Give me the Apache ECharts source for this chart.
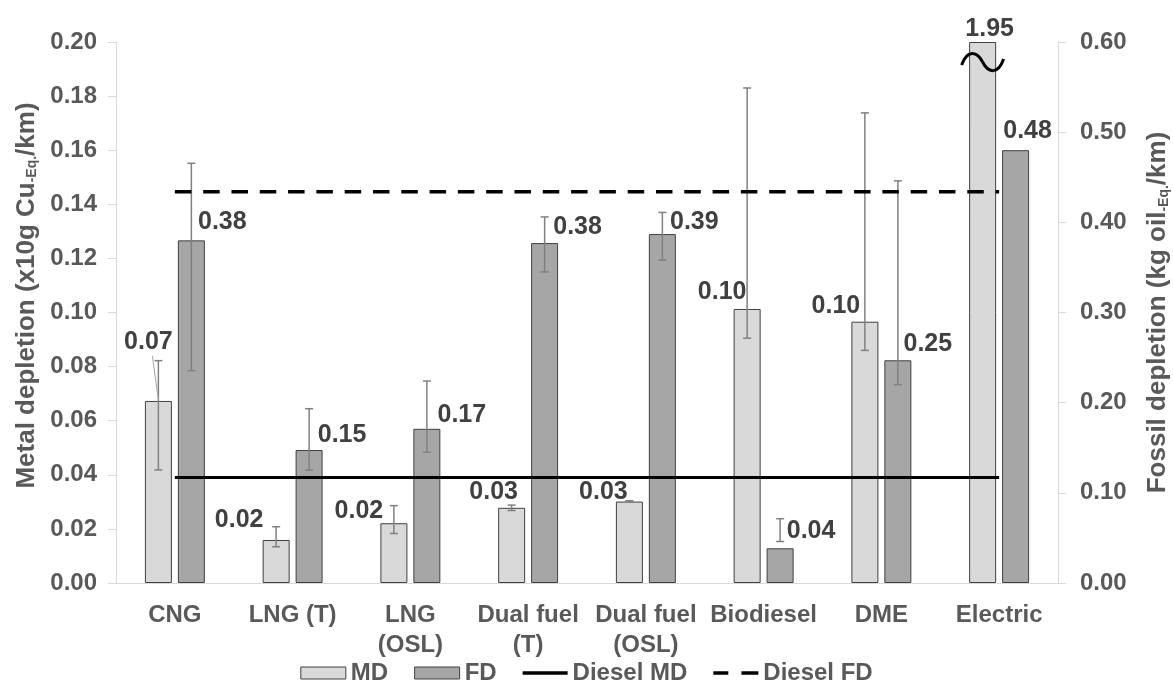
<!DOCTYPE html>
<html>
<head>
<meta charset="utf-8">
<script src="https://cdn.jsdelivr.net/npm/echarts@6/dist/echarts.min.js"></script>
<style>html,body{margin:0;padding:0;background:#fff;}#c{width:1173px;height:690px;}</style>
</head>
<body>
<div id="c"></div>
<script>
// ---- data ----
const categories = ['CNG', 'LNG (T)', 'LNG\n(OSL)', 'Dual fuel\n(T)', 'Dual fuel\n(OSL)', 'Biodiesel', 'DME', 'Electric'];
const mdValues   = [0.0673, 0.0159, 0.0221, 0.0278, 0.0301, 0.1013, 0.0966, 1.95];
const mdErrLow   = [0.0418, 0.0134, 0.0183, 0.0268, 0.0299, 0.0905, 0.0860, null];
const mdErrHigh  = [0.0822, 0.0208, 0.0286, 0.0288, 0.0304, 0.1830, 0.1738, null];
const fdValues   = [0.380, 0.1475, 0.171, 0.377, 0.387, 0.0385, 0.247, 0.480];
const fdErrLow   = [0.2355, 0.1253, 0.145, 0.345, 0.358, 0.046, 0.220, null];
const fdErrHigh  = [0.4655, 0.1933, 0.224, 0.406, 0.411, 0.0713, 0.446, null];
const dieselMD = 0.039;
const dieselFD = 0.434;
const leftAxis  = { min: 0, max: 0.20, interval: 0.02 };
const rightAxis = { min: 0, max: 0.60, interval: 0.10 };

// ---- label placement (style only) ----
const mdLabelOffset = [[-10, -41], [-37, -2], [-35, 5], [-18, 2], [-26, 8], [-25, 1], [-29, 2], [7, 5]];
const fdLabelOffset = [[31, -1], [33, 3], [35, 4], [33, 2], [32, 6], [31, 0], [30, 1], [12, -2]];

const FONT = '"Liberation Sans", Arial, sans-serif';
const BAR_W = 27, HALF_OFF = 16.5;
const chart = echarts.init(document.getElementById('c'), null, { renderer: 'canvas' });

const labelStyle = { show: true, position: 'top', distance: 5, fontFamily: FONT, fontWeight: 'bold', fontSize: 25, color: '#404040' };

const mdData = mdValues.map((v, i) => ({
  value: Math.min(v, leftAxis.max),
  label: Object.assign({}, labelStyle, { offset: mdLabelOffset[i], formatter: () => v.toFixed(2) })
}));
const fdData = fdValues.map((v, i) => ({
  value: v,
  label: Object.assign({}, labelStyle, { offset: fdLabelOffset[i], formatter: () => v.toFixed(2) })
}));

function errRender(offset) {
  return function (params, api) {
    const i = api.value(0);
    const lo = api.coord([i, api.value(1)]);
    const hi = api.coord([i, api.value(2)]);
    const x = lo[0] + offset;
    const st = { stroke: '#808080', lineWidth: 1.5 };
    return {
      type: 'group',
      children: [
        { type: 'line', shape: { x1: x, y1: lo[1], x2: x, y2: hi[1] }, style: st },
        { type: 'line', shape: { x1: x - 4, y1: lo[1], x2: x + 4, y2: lo[1] }, style: st },
        { type: 'line', shape: { x1: x - 4, y1: hi[1], x2: x + 4, y2: hi[1] }, style: st }
      ]
    };
  };
}
const mdErrData = categories.map((c, i) => [i, mdErrLow[i], mdErrHigh[i]]).filter(d => d[1] !== null);
const fdErrData = categories.map((c, i) => [i, fdErrLow[i], fdErrHigh[i]]).filter(d => d[1] !== null);

const axisLabelStyle = { fontFamily: FONT, fontWeight: 'bold', fontSize: 24, color: '#595959' };
const lastIdx = categories.length - 1;
const subRich = { s: { fontFamily: FONT, fontWeight: 'bold', fontSize: 14, color: '#595959', verticalAlign: 'bottom', padding: [11, 0, 0, 0] } };

const option = {
  animation: false,
  backgroundColor: '#fff',
  grid: { left: 116, right: 115, top: 42, bottom: 107, containLabel: false, outerBoundsMode: 'none' },
  legend: {
    left: 'center', top: 656,
    itemWidth: 45, itemHeight: 12, itemGap: 26,
    symbolKeepAspect: true,
    textStyle: { fontFamily: FONT, fontWeight: 'bold', fontSize: 24, color: '#595959' },
    data: [
      { name: 'MD', icon: 'rect', itemStyle: { color: '#d9d9d9', borderColor: '#404040', borderWidth: 1 } },
      { name: 'FD', icon: 'rect', itemStyle: { color: '#a6a6a6', borderColor: '#404040', borderWidth: 1 } },
      { name: 'Diesel MD', icon: 'path://M0,0h48v3.5h-48z', itemStyle: { color: '#000', borderWidth: 0 } },
      { name: 'Diesel FD', icon: 'path://M0,0h16v3.5h-16z M30,0h18v3.5h-18z', itemStyle: { color: '#000', borderWidth: 0 } }
    ]
  },
  xAxis: {
    type: 'category',
    data: categories,
    axisLine: { lineStyle: { color: '#d9d9d9', width: 1 } },
    axisTick: { show: false },
    axisLabel: Object.assign({}, axisLabelStyle, { margin: 17, lineHeight: 30, interval: 0 })
  },
  yAxis: [
    {
      type: 'value', position: 'left',
      min: leftAxis.min, max: leftAxis.max, interval: leftAxis.interval,
      splitLine: { show: false },
      axisLine: { show: true, lineStyle: { color: '#d9d9d9' } },
      axisTick: { show: true, length: 8, lineStyle: { color: '#d9d9d9' } },
      axisLabel: Object.assign({}, axisLabelStyle, { margin: 19, formatter: v => v.toFixed(2) }),
      name: 'Metal depletion (x10g Cu{s|-Eq.}/km)',
      nameLocation: 'middle', nameRotate: 90, nameGap: 76,
      nameTextStyle: { fontFamily: FONT, fontWeight: 'bold', fontSize: 26, color: '#595959', padding: [0, 0, 0, 34], rich: subRich }
    },
    {
      type: 'value', position: 'right',
      min: rightAxis.min, max: rightAxis.max, interval: rightAxis.interval,
      splitLine: { show: false },
      axisLine: { show: true, lineStyle: { color: '#d9d9d9' } },
      axisTick: { show: true, length: 8, lineStyle: { color: '#d9d9d9' } },
      axisLabel: Object.assign({}, axisLabelStyle, { margin: 22, formatter: v => v.toFixed(2) }),
      name: 'Fossil depletion (kg oil{s|-Eq.}/km)',
      nameLocation: 'middle', nameRotate: 90, nameGap: 87,
      nameTextStyle: { fontFamily: FONT, fontWeight: 'bold', fontSize: 26, color: '#595959', rich: subRich }
    }
  ],
  series: [
    {
      name: 'MD', type: 'bar', yAxisIndex: 0, barWidth: BAR_W, barGap: '22%',
      itemStyle: { color: '#d9d9d9', borderColor: '#404040', borderWidth: 1 },
      data: mdData, z: 2
    },
    {
      name: 'FD', type: 'bar', yAxisIndex: 1, barWidth: BAR_W,
      itemStyle: { color: '#a6a6a6', borderColor: '#404040', borderWidth: 1 },
      data: fdData, z: 2
    },
    {
      name: 'mdErr', type: 'custom', yAxisIndex: 0, renderItem: errRender(-HALF_OFF),
      encode: { x: 0, y: [1, 2] }, data: mdErrData, z: 3, silent: true
    },
    {
      name: 'fdErr', type: 'custom', yAxisIndex: 1, renderItem: errRender(HALF_OFF),
      encode: { x: 0, y: [1, 2] }, data: fdErrData, z: 3, silent: true
    },
    {
      name: 'Diesel MD', type: 'line', yAxisIndex: 0, symbol: 'none', z: 4,
      lineStyle: { color: '#000', width: 3 },
      itemStyle: { color: '#000' },
      data: categories.map((c, i) => ({
        value: dieselMD,
        label: i === lastIdx ? Object.assign({}, labelStyle, { offset: [-54, 5], formatter: () => dieselMD.toFixed(2) }) : { show: false }
      }))
    },
    {
      name: 'Diesel FD', type: 'line', yAxisIndex: 1, symbol: 'none', z: 4,
      lineStyle: { color: '#000', width: 3.5, type: [16.5, 11.8] },
      itemStyle: { color: '#000' },
      data: categories.map((c, i) => ({
        value: dieselFD,
        label: i === lastIdx ? Object.assign({}, labelStyle, { offset: [-57, 2], formatter: () => dieselFD.toFixed(2) }) : { show: false }
      }))
    }
  ]
};
chart.setOption(option);

// break symbol on the clipped Electric MD bar and leader line for the CNG label
const elec = chart.convertToPixel({ xAxisIndex: 0, yAxisIndex: 0 }, [lastIdx, 0.1926]);
const cngTop = chart.convertToPixel({ xAxisIndex: 0, yAxisIndex: 0 }, [0, mdValues[0]]);
const ex = elec[0] - HALF_OFF, ey = elec[1];
const bx = cngTop[0] - HALF_OFF;
chart.setOption({
  graphic: [
    {
      type: 'bezierCurve', z: 10,
      shape: { x1: ex - 21, y1: ey + 3, cpx1: ex - 15, cpy1: ey - 14, cpx2: ex - 5, cpy2: ey - 10, x2: ex, y2: ey },
      style: { fill: null, stroke: '#000', lineWidth: 3 }
    },
    {
      type: 'bezierCurve', z: 10,
      shape: { x1: ex, y1: ey, cpx1: ex + 5, cpy1: ey + 10, cpx2: ex + 15, cpy2: ey + 14, x2: ex + 21, y2: ey - 3 },
      style: { fill: null, stroke: '#000', lineWidth: 3 }
    },
    {
      type: 'line', z: 10,
      shape: { x1: bx - 6, y1: cngTop[1] - 45, x2: bx, y2: cngTop[1] - 1 },
      style: { stroke: '#a6a6a6', lineWidth: 1 }
    }
  ]
});
</script>
</body>
</html>
